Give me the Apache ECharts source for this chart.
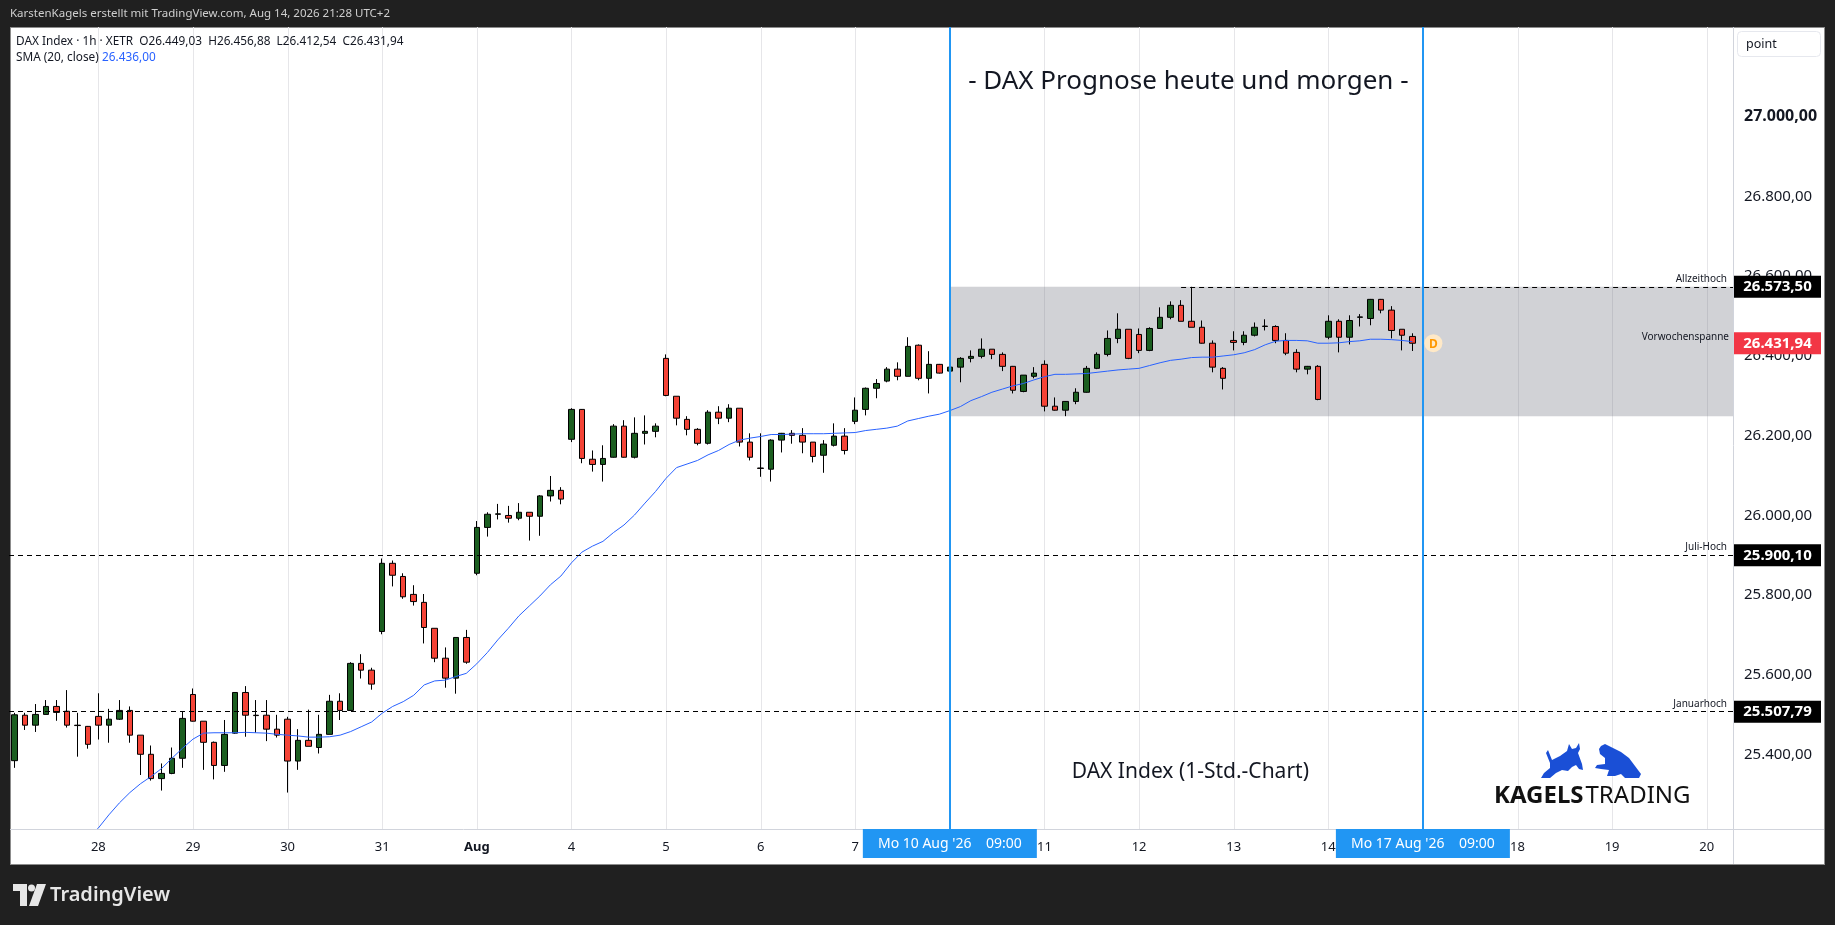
<!DOCTYPE html>
<html><head><meta charset="utf-8">
<script src="https://cdn.jsdelivr.net/npm/echarts@6/dist/echarts.min.js"></script>
<style>
html,body{margin:0;padding:0;background:#202020;width:1835px;height:925px;overflow:hidden}
#panel{position:absolute;left:10px;top:27px;width:1815px;height:838px;background:#fff;border:1px solid #8c8c8c;box-sizing:border-box}
#chart{position:absolute;left:0;top:0;width:1835px;height:925px}
</style></head><body><div id="panel"></div><div id="chart"></div>
<script>
// ---------- data (DAX 1h, XETR) ----------
const tradingDays = ['2026-07-27','2026-07-28','2026-07-29','2026-07-30','2026-07-31',
  '2026-08-03','2026-08-04','2026-08-05','2026-08-06','2026-08-07',
  '2026-08-10','2026-08-11','2026-08-12','2026-08-13','2026-08-14'];
const futureDays = ['2026-08-17','2026-08-18','2026-08-19','2026-08-20'];
const sessionHours = ['09:00','10:00','11:00','12:00','13:00','14:00','15:00','16:00','17:00'];

// candles: [open, close, low, high]
const jul27 = [[25385,25500,25367,25505],[25499,25474,25462,25505],[25474,25501,25457,25527],[25501,25521,25501,25537],
  [25521,25506,25485,25537],[25509,25474,25468,25562],[25474,25473,25395,25505],[25471,25426,25415,25472]];
const jul28 = [[25496,25474,25438,25554],[25474,25489,25430,25515],[25489,25511,25487,25537],[25511,25449,25430,25521],
  [25449,25401,25349,25449],[25401,25340,25335,25423],[25340,25353,25310,25378],[25353,25391,25351,25418],[25391,25491,25367,25508]];
const jul29 = [[25551,25484,25483,25566],[25484,25431,25362,25484],[25431,25373,25338,25433],[25373,25451,25357,25487],
  [25454,25556,25452,25557],[25556,25499,25445,25572],[25499,25498,25455,25537],[25499,25464,25434,25537],[25464,25449,25443,25500]];
const jul30 = [[25489,25384,25305,25495],[25384,25436,25362,25464],[25436,25421,25421,25513],[25418,25451,25403,25500],
  [25451,25534,25451,25550],[25534,25511,25487,25554],[25511,25629,25510,25632],[25629,25612,25591,25652],[25612,25577,25563,25618]];
const jul31 = [[25709,25880,25702,25892],[25880,25850,25822,25887],[25847,25796,25791,25855],[25802,25784,25774,25825],
  [25782,25719,25679,25803],[25717,25642,25632,25717],[25642,25592,25568,25669],[25592,25694,25553,25694],[25694,25632,25628,25713]];
const aug03 = [[25855,25970,25850,25986],[25970,26003,25947,26008],[26003,26004,25990,26029],[26000,25993,25982,26024],
  [25993,26008,25988,26031],[26008,25998,25937,26008],[25998,26049,25949,26051],[26049,26063,26035,26099],[26063,26041,26028,26071]];
const aug04 = [[26191,26266,26184,26269],[26266,26143,26131,26267],[26141,26128,26110,26163],[26128,26143,26085,26176],
  [26146,26224,26145,26229],[26224,26146,26145,26239],[26146,26206,26143,26246],[26206,26211,26178,26251],[26211,26224,26196,26231]];
const aug05 = [[26394,26301,26299,26404],[26299,26244,26226,26299],[26241,26216,26201,26249],[26216,26181,26176,26219],
  [26181,26259,26178,26264],[26259,26244,26229,26274],[26244,26269,26234,26279],[26269,26184,26173,26269],[26184,26146,26138,26206]];
const aug06 = [[26119,26118,26097,26206],[26116,26189,26085,26191],[26189,26206,26158,26207],[26206,26201,26180,26214],
  [26201,26184,26156,26219],[26184,26148,26133,26184],[26151,26179,26107,26189],[26176,26199,26173,26231],[26199,26163,26153,26219]];
const aug07 = [[26236,26264,26229,26296],[26266,26319,26251,26321],[26319,26331,26294,26342],[26337,26367,26334,26372],
  [26367,26349,26339,26384],[26349,26424,26349,26447],[26427,26344,26339,26429],[26344,26379,26306,26412],[26379,26357,26356,26380]];
const aug10 = [[26362,26372,26319,26384],[26372,26394,26334,26397],[26394,26399,26384,26414],[26399,26417,26394,26444],
  [26417,26404,26392,26417],[26404,26374,26362,26409],[26374,26314,26306,26375],[26311,26352,26309,26352],[26349,26357,26344,26372]];
const aug11 = [[26379,26274,26261,26389],[26274,26264,26263,26296],[26264,26286,26249,26287],[26286,26309,26279,26319],
  [26309,26369,26308,26375],[26369,26404,26367,26409],[26404,26444,26399,26464],[26444,26467,26432,26507],[26467,26394,26392,26467]];
const aug12 = [[26454,26414,26407,26469],[26414,26469,26412,26472],[26469,26497,26469,26522],[26497,26527,26492,26537],
  [26527,26487,26487,26540],[26487,26472,26472,26573.5],[26472,26432,26431,26489],[26432,26372,26359,26439],[26369,26344,26316,26372]];
const aug13 = [[26439,26434,26414,26462],[26434,26452,26427,26462],[26452,26472,26449,26484],[26474,26475,26464,26492],
  [26474,26439,26432,26477],[26439,26407,26402,26457],[26409,26367,26359,26417],[26367,26374,26354,26375],[26374,26291,26289,26377]];
const aug14 = [[26447,26487,26442,26502],[26487,26447,26409,26492],[26447,26489,26429,26502],[26497,26498,26474,26505],
  [26494,26542,26477,26543],[26542,26515,26507,26543],[26515,26464,26444,26525],[26467,26452,26414,26467],[26449.03,26431.94,26412.54,26456.88]];

// SMA(20, close) as drawn
const sma20 = [null,null,null,null,null,null,null,25190,
  25216,25249,25279,25305,25327,25345,25365,25391,25416,
  25439,25454,25455,25455,25455,25456,25455,25454,25451,
  25449,25447,25444,25444,25445,25449,25458,25470,25482,
  25504,25521,25533,25549,25575,25585,25587,25596,25604,
  25628,25656,25688,25717,25748,25773,25798,25826,25848,
  25881,25908,25923,25935,25957,25976,26001,26031,26060,
  26093,26120,26129,26138,26152,26163,26178,26189,26194,
  26198,26203,26203,26204,26205,26205,26205,26206,26207,
  26208,26213,26216,26219,26224,26237,26243,26249,26254,
  26263,26273,26288,26298,26309,26317,26325,26331,26340,
  26348,26354,26354,26355,26356,26359,26362,26365,26367,
  26369,26376,26383,26389,26392,26396,26397,26397,26400,
  26403,26408,26416,26428,26437,26439,26439,26438,26432,
  26432,26433,26436,26438,26442,26442,26441,26439,26436];

const priceTicks = [25400,25600,25800,26000,26200,26400,26600,26800,27000];
const allTimeHigh = 26573.50;
const julyHigh = 25900.10;
const januaryHigh = 25507.79;
const lastClose = 26431.94;
const smaLast = 26436.00;
const prevWeekRange = [26248.6, 26573.5];
const athSlot = '2026-08-12 13:00';
const weekStartSlot = '2026-08-10 09:00';
const nextWeekSlot = '2026-08-17 09:00';
const markerSlot = '2026-08-17 10:00';

// ---------- build tables ----------
const allSlots = [];
tradingDays.concat(futureDays).forEach(d => sessionHours.forEach(h => allSlots.push(d + ' ' + h)));
const categories = allSlots.slice(1, 165); // window opens Jul 27 10:00
const candles = [].concat(jul27, jul28, jul29, jul30, jul31, aug03, aug04, aug05, aug06, aug07, aug10, aug11, aug12, aug13, aug14);
const dayStarts = categories.filter(c => c.endsWith('09:00')).map(c => [c, 0]);

const yMin = 25213.6, yMax = 27225.1;
const FONT = '"Noto Sans", Roboto, sans-serif';
const de = v => { const s = v.toFixed(2).split('.'); return s[0].replace(/\B(?=(\d{3})+(?!\d))/g, '.') + ',' + s[1]; };

const chart = echarts.init(document.getElementById('chart'), null, {renderer: 'canvas'});
chart.setOption({
  animation: false,
  backgroundColor: 'transparent',
  textStyle: {fontFamily: FONT},
  grid: {left: 9, right: 102, top: 27, bottom: 96, containLabel: false, outerBoundsMode: 'none'},
  xAxis: {
    type: 'category', data: categories, boundaryGap: true,
    axisLine: {show: false}, axisTick: {show: false}, splitLine: {show: false},
    axisLabel: {
      interval: (i, v) => v.endsWith('09:00'),
      formatter: v => v.slice(0, 10) === '2026-08-03' ? '{b|Aug}' : String(+v.slice(8, 10)),
      color: '#131722', fontSize: 13, margin: 12, fontFamily: FONT,
      rich: {b: {fontWeight: 'bold', fontSize: 13, color: '#131722', fontFamily: FONT}}
    }
  },
  yAxis: {
    type: 'value', position: 'right', min: yMin, max: yMax,
    axisLine: {show: false}, axisTick: {show: false}, splitLine: {show: false},
    axisLabel: {customValues: priceTicks, formatter: v => v === 27000 ? '{b|' + de(v) + '}' : de(v),
      color: '#131722', fontSize: 15, margin: 11, fontFamily: FONT,
      rich: {b: {fontWeight: 'bold', fontSize: 16, color: '#131722', fontFamily: FONT}}}
  },
  series: [
    {
      type: 'custom', z: 0, silent: true, data: dayStarts, encode: {x: 0, y: 1},
      renderItem: (params, api) => {
        const x = Math.round(api.coord([api.value(0), yMin])[0]) + 0.5;
        const cs = params.coordSys;
        return {type: 'line', shape: {x1: x, y1: cs.y, x2: x, y2: cs.y + cs.height}, style: {stroke: '#e6e6e9', lineWidth: 1}};
      }
    },
    {
      type: 'custom', z: 1, silent: true, data: [[weekStartSlot, prevWeekRange[1], prevWeekRange[0]]], encode: {x: 0, y: [1, 2]},
      renderItem: (params, api) => {
        const p1 = api.coord([api.value(0), api.value(1)]);
        const p2 = api.coord([api.value(0), api.value(2)]);
        const cs = params.coordSys;
        return {type: 'rect', shape: {x: p1[0], y: p1[1], width: cs.x + cs.width - p1[0], height: p2[1] - p1[1]},
          style: {fill: 'rgba(120,123,134,0.34)'}};
      }
    },
    {
      type: 'candlestick', z: 2, data: candles, barWidth: 6,
      itemStyle: {color: '#1b5e20', color0: '#f44336', borderColor: '#000', borderColor0: '#000', borderColorDoji: '#000', borderWidth: 1},
      markLine: {
        silent: true, symbol: 'none', animation: false, label: {show: false},
        data: [
          {yAxis: julyHigh, lineStyle: {color: '#000', type: [5, 4], width: 1}},
          {yAxis: januaryHigh, lineStyle: {color: '#000', type: [5, 4], width: 1}},
          {xAxis: weekStartSlot, lineStyle: {color: '#2196f3', type: 'solid', width: 2}},
          {xAxis: nextWeekSlot, lineStyle: {color: '#2196f3', type: 'solid', width: 2}}
        ]
      }
    },
    {
      type: 'line', z: 3, data: sma20, showSymbol: false, symbol: 'none', connectNulls: false,
      lineStyle: {color: '#2962ff', width: 1}, silent: true
    },
    {
      type: 'custom', z: 3, silent: true, data: [[athSlot, allTimeHigh]], encode: {x: 0, y: 1},
      renderItem: (params, api) => {
        const p = api.coord([api.value(0), api.value(1)]);
        const cs = params.coordSys;
        const y = Math.round(p[1]) + 0.5;
        return {type: 'line', shape: {x1: p[0], y1: y, x2: cs.x + cs.width, y2: y}, style: {stroke: '#000', lineWidth: 1, lineDash: [5, 4]}};
      }
    }
  ]
});

// ---------- overlays positioned through the chart's scales ----------
const P = (slot, v) => chart.convertToPixel({gridIndex: 0}, [slot, v]);
const plotRight = 1733, axisY = 829;
const els = [];
const txt = (x, y, text, o) => els.push(Object.assign({type: 'text', x, y, style: Object.assign({text, fill: '#131722', font: '12px ' + FONT, align: 'left', verticalAlign: 'middle'}, o || {})}, {z: 100}));

// header & footer
txt(10, 14, 'KarstenKagels erstellt mit TradingView.com, Aug 14, 2026 21:28 UTC+2', {fill: '#cfcfcf', font: '11.5px ' + FONT});
txt(16, 42, 'DAX Index · 1h · XETR  O26.449,03  H26.456,88  L26.412,54  C26.431,94', {font: '11.8px ' + FONT});
els.push({type: 'text', x: 16, y: 58, z: 100, style: {text: '{a|SMA (20, close)} {b|' + de(smaLast) + '}', verticalAlign: 'middle',
  rich: {a: {fill: '#131722', font: '11.8px ' + FONT}, b: {fill: '#2962ff', font: '11.8px ' + FONT}}}});

// separators
els.push({type: 'line', z: 100, shape: {x1: 10, y1: axisY + 0.5, x2: 1824, y2: axisY + 0.5}, style: {stroke: '#d1d4dc', lineWidth: 1}});
els.push({type: 'line', z: 100, shape: {x1: plotRight + 0.5, y1: 27, x2: plotRight + 0.5, y2: 864}, style: {stroke: '#d1d4dc', lineWidth: 1}});

// "point" box
els.push({type: 'rect', z: 100, shape: {x: 1737.5, y: 31.5, width: 83, height: 25, r: 4}, style: {fill: '#fff', stroke: '#e6e8ee', lineWidth: 1}});
txt(1746, 44, 'point', {font: '12.5px ' + FONT});

// titles
const midX = (P(weekStartSlot, 0)[0] + P(nextWeekSlot, 0)[0]) / 2;
txt(midX + 2, 82, '- DAX Prognose heute und morgen -', {font: '26px ' + FONT, align: 'center'});
txt(midX + 4, 772, 'DAX Index (1-Std.-Chart)', {font: '21px ' + FONT, align: 'center'});

// line labels
const yAth = P(athSlot, allTimeHigh)[1], yJul = P(athSlot, julyHigh)[1], yJan = P(athSlot, januaryHigh)[1];
const yRangeTop = P(weekStartSlot, prevWeekRange[1])[1];
txt(1727, yAth - 3, 'Allzeithoch', {font: '10px ' + FONT, align: 'right', verticalAlign: 'bottom'});
txt(1727, yJul - 3, 'Juli-Hoch', {font: '10px ' + FONT, align: 'right', verticalAlign: 'bottom'});
txt(1727, yJan - 3, 'Januarhoch', {font: '10px ' + FONT, align: 'right', verticalAlign: 'bottom'});
txt(1729, yRangeTop + 50, 'Vorwochenspanne', {font: '10px ' + FONT, align: 'right'});

// price boxes on the right axis
const priceBox = (v, color) => {
  const y = P(athSlot, v)[1];
  els.push({type: 'rect', z: 101, shape: {x: 1734, y: y - 11, width: 87, height: 22}, style: {fill: color}});
  els.push({type: 'text', z: 102, x: 1777.5, y: y, style: {text: de(v), fill: '#fff', font: 'bold 15px ' + FONT, align: 'center', verticalAlign: 'middle'}});
};
priceBox(allTimeHigh, '#000');
priceBox(lastClose, '#f23645');
priceBox(julyHigh, '#000');
priceBox(januaryHigh, '#000');

// blue date boxes on the time axis
const dateBox = (slot, label) => {
  const x = P(slot, 0)[0];
  els.push({type: 'rect', z: 101, shape: {x: x - 87, y: axisY, width: 174, height: 29}, style: {fill: '#2196f3'}});
  els.push({type: 'text', z: 102, x: x, y: axisY + 15, style: {text: label, fill: '#fff', font: '14px ' + FONT, align: 'center', verticalAlign: 'middle'}});
};
dateBox(weekStartSlot, "Mo 10 Aug '26    09:00");
dateBox(nextWeekSlot, "Mo 17 Aug '26    09:00");

// "D" marker
const dm = P(markerSlot, lastClose);
els.push({type: 'circle', z: 101, shape: {cx: dm[0], cy: dm[1], r: 9}, style: {fill: '#ffe9c7'}});
els.push({type: 'text', z: 102, x: dm[0], y: dm[1] + 1, style: {text: 'D', fill: '#ff9800', font: 'bold 12px ' + FONT, align: 'center', verticalAlign: 'middle'}});

// KAGELS TRADING logo
const blue = '#1a4fd6';
els.push({type: 'polygon', z: 100, x: 1538, y: 743, shape: {points: [[12,20],[8,10],[10,7],[14,17],[22,13],[29,8],[31,1],[34,6],[38,5],[41,0],[42,6],[40,10],[44,21],[45,27],[41,26],[38,22],[34,24],[30,28],[24,27],[18,30],[12,35],[3,35],[6,30],[12,25]]}, style: {fill: blue}});
els.push({type: 'polygon', z: 100, x: 1595, y: 744, shape: {points: [[6,2],[10,0],[14,2],[18,4],[26,8],[34,14],[40,22],[46,30],[44,34],[30,34],[26,30],[20,32],[12,32],[14,26],[6,25],[0,24],[2,21],[10,20],[10,14],[5,10],[4,5]]}, style: {fill: blue}});
els.push({type: 'text', z: 100, x: 1494, y: 796, style: {text: '{k|KAGELS}{t|TRADING}', verticalAlign: 'middle',
  rich: {k: {fill: '#111', font: 'bold 24px ' + FONT}, t: {fill: '#111', font: '24px ' + FONT, padding: [0, 0, 0, 2]}}}});

// TradingView footer logo
const grey = '#e6e6e6';
els.push({type: 'polygon', z: 100, shape: {points: [[13,884],[27,884],[27,906],[20,906],[20,891],[13,891]]}, style: {fill: grey}});
els.push({type: 'circle', z: 100, shape: {cx: 31.5, cy: 888, r: 3.5}, style: {fill: grey}});
els.push({type: 'polygon', z: 100, shape: {points: [[37,884],[46,884],[38,906],[29,906]]}, style: {fill: grey}});
txt(50, 895, 'TradingView', {fill: grey, font: '600 20px ' + FONT});

chart.setOption({graphic: {elements: els}});
</script></body></html>
